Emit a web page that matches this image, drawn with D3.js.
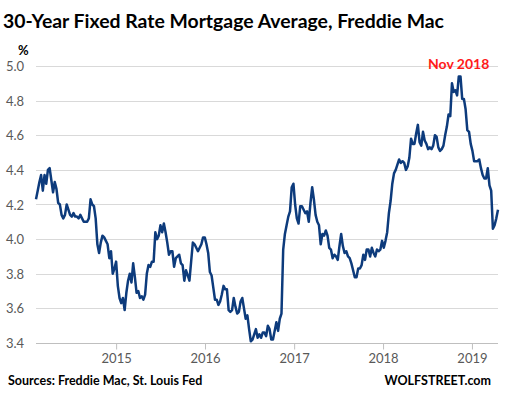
<!DOCTYPE html>
<html>
<head>
    <title></title>
    <meta charset="utf-8" />
    <script src="https://cdn.jsdelivr.net/npm/d3@7"></script>
    <style>
        body { margin: 0; background: #fff; }
        text { font-family: Lato, "Open Sans", sans-serif; }
        .grid line { stroke: #d9d9d9; stroke-width: 1; }
        .tick-label { fill: #595959; font-size: 13px; }
    </style>
</head>
<body>
    <script>
        // weekly Freddie Mac 30-year rate, Feb 2014 - Apr 2019
        var startDate = '2014-02-06';
        var rates2014 = [4.23, 4.28, 4.33, 4.37, 4.28, 4.37, 4.32, 4.40, 4.41, 4.34, 4.27, 4.33, 4.29, 4.21, 4.20, 4.14, 4.12,
            4.14, 4.20, 4.17, 4.14, 4.13, 4.15, 4.13, 4.13, 4.12, 4.14, 4.12, 4.10, 4.10, 4.10, 4.12, 4.23, 4.20, 4.19,
            4.12, 3.97, 3.92, 3.98, 4.02, 4.01, 3.99, 3.97, 3.89, 3.93, 3.80, 3.83, 3.87];
        var rates2015 = [3.73, 3.66, 3.63, 3.66, 3.59, 3.69, 3.76, 3.80, 3.75, 3.86, 3.78, 3.69, 3.70, 3.66, 3.67, 3.65, 3.68,
            3.80, 3.85, 3.84, 3.87, 3.87, 4.04, 4.00, 4.02, 4.08, 4.04, 4.09, 4.04, 3.98, 3.91, 3.93, 3.93, 3.84, 3.89,
            3.90, 3.91, 3.86, 3.85, 3.76, 3.82, 3.79, 3.76, 3.87, 3.98, 3.97, 3.95, 3.93, 3.95, 3.97, 4.01, 4.01];
        var rates2016 = [3.97, 3.92, 3.81, 3.79, 3.72, 3.65, 3.65, 3.62, 3.64, 3.68, 3.73, 3.71, 3.71, 3.59, 3.58, 3.59, 3.66,
            3.61, 3.57, 3.58, 3.64, 3.66, 3.60, 3.54, 3.56, 3.48, 3.41, 3.42, 3.45, 3.48, 3.43, 3.45, 3.43, 3.46, 3.46,
            3.44, 3.50, 3.48, 3.42, 3.42, 3.47, 3.52, 3.47, 3.54, 3.57, 3.94, 4.03, 4.08, 4.13, 4.16, 4.30, 4.32];
        var rates2017 = [4.20, 4.12, 4.09, 4.19, 4.19, 4.17, 4.15, 4.16, 4.10, 4.21, 4.30, 4.23, 4.14, 4.10, 4.08, 3.97, 4.03,
            4.02, 4.05, 4.02, 3.95, 3.94, 3.89, 3.91, 3.90, 3.88, 3.96, 4.03, 3.96, 3.92, 3.93, 3.90, 3.89, 3.86, 3.82,
            3.78, 3.78, 3.83, 3.83, 3.85, 3.91, 3.88, 3.94, 3.94, 3.90, 3.95, 3.92, 3.90, 3.94, 3.93, 3.94, 3.99];
        var rates2018 = [3.95, 3.99, 4.04, 4.15, 4.22, 4.32, 4.38, 4.40, 4.43, 4.46, 4.44, 4.45, 4.44, 4.40, 4.42, 4.47, 4.58,
            4.55, 4.55, 4.61, 4.66, 4.56, 4.54, 4.62, 4.57, 4.55, 4.52, 4.53, 4.52, 4.54, 4.60, 4.59, 4.53, 4.51, 4.52,
            4.54, 4.60, 4.65, 4.72, 4.71, 4.90, 4.85, 4.86, 4.83, 4.94, 4.94, 4.81, 4.81, 4.75, 4.63, 4.62, 4.55];
        var rates2019 = [4.51, 4.45, 4.45, 4.45, 4.46, 4.41, 4.37, 4.35, 4.35, 4.41, 4.31, 4.28, 4.06, 4.08, 4.12, 4.17];

        var yTicks = [3.4, 3.6, 3.8, 4.0, 4.2, 4.4, 4.6, 4.8, 5.0];
        var xTickYears = [2015, 2016, 2017, 2018, 2019];

        var rates = [].concat(rates2014, rates2015, rates2016, rates2017, rates2018, rates2019);
        var t0 = d3.timeParse('%Y-%m-%d')(startDate);
        var data = rates.map(function (v, i) { return { date: d3.timeWeek.offset(t0, i), value: v }; });

        var width = 506, height = 398;
        var plotLeft = 36, plotRight = 498, plotTop = 66, plotBottom = 343;

        var svg = d3.select('body').append('svg').attr('width', width).attr('height', height);

        var x = d3.scaleTime()
            .domain([data[0].date, data[data.length - 1].date])
            .range([plotLeft, plotRight]);
        var y = d3.scaleLinear().domain([3.4, 5.0]).range([plotBottom, plotTop]);

        // title
        svg.append('text')
            .attr('x', 3).attr('y', 28)
            .style('font-size', '19.4px').style('font-weight', 'bold').style('fill', '#000')
            .text('30-Year Fixed Rate Mortgage Average, Freddie Mac');

        svg.append('text')
            .attr('x', 18).attr('y', 55)
            .style('font-size', '13px').style('font-weight', 'bold').style('fill', '#000')
            .text('%');

        // grid + y labels
        var grid = svg.append('g').attr('class', 'grid');
        grid.selectAll('line').data(yTicks.slice(1)).enter()
            .append('line')
            .attr('x1', plotLeft).attr('x2', plotRight)
            .attr('y1', function (d) { return Math.round(y(d)) + 0.5; })
            .attr('y2', function (d) { return Math.round(y(d)) + 0.5; });

        svg.selectAll('.ylab').data(yTicks).enter()
            .append('text')
            .attr('class', 'tick-label ylab')
            .attr('x', 6)
            .attr('y', function (d) { return y(d) + 5; })
            .text(function (d) { return d.toFixed(1); });

        // x axis
        var xAxis = d3.axisBottom(x)
            .tickValues(xTickYears.map(function (yr) { return new Date(yr, 0, 1); }))
            .tickSize(6)
            .tickFormat(d3.timeFormat('%Y'));

        var gx = svg.append('g')
            .attr('transform', 'translate(0,' + (plotBottom + 0.5) + ')')
            .call(xAxis);
        gx.select('.domain').attr('d', 'M' + plotLeft + ',0H' + plotRight).attr('stroke', '#bfbfbf');
        gx.selectAll('.tick line').attr('stroke', '#bfbfbf');
        gx.selectAll('.tick text')
            .attr('class', 'tick-label')
            .attr('dy', '0')
            .attr('y', 19);

        // line
        var line = d3.line()
            .x(function (d) { return x(d.date); })
            .y(function (d) { return y(d.value); });

        svg.append('path')
            .datum(data)
            .attr('fill', 'none')
            .attr('stroke', '#0d3b7c')
            .attr('stroke-width', 2.5)
            .attr('stroke-linejoin', 'round')
            .attr('d', line);

        // annotation
        svg.append('text')
            .attr('x', 428).attr('y', 69)
            .style('font-size', '14px').style('font-weight', 'bold').style('fill', '#ff1a1a')
            .text('Nov 2018');

        // footer
        svg.append('text')
            .attr('x', 8).attr('y', 385)
            .style('font-size', '12.5px').style('font-weight', 'bold').style('fill', '#000')
            .text('Sources: Freddie Mac, St. Louis Fed');
        svg.append('text')
            .attr('x', 491).attr('y', 385)
            .attr('text-anchor', 'end')
            .style('font-size', '12.5px').style('font-weight', 'bold').style('fill', '#000')
            .text('WOLFSTREET.com');
    </script>
</body>
</html>
